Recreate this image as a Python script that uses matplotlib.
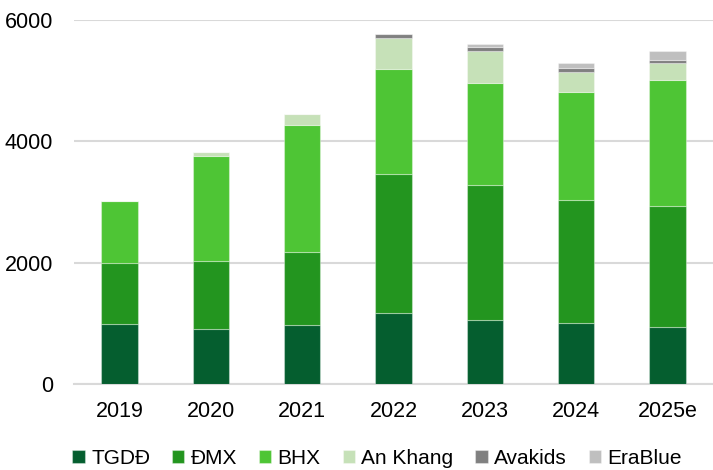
import matplotlib
matplotlib.use("Agg")
import matplotlib.pyplot as plt
import numpy as np

plt.rcParams['font.family'] = ['Liberation Sans', 'DejaVu Sans']

years = ["2019", "2020", "2021", "2022", "2023", "2024", "2025e"]
series_names = ["TGDĐ", "ĐMX", "BHX", "An Khang", "Avakids", "EraBlue"]
tgdd = [990, 900, 973, 1170, 1055, 1012, 946]
dmx = [1010, 1126, 1197, 2296, 2220, 2026, 1993]
bhx = [1015, 1735, 2102, 1730, 1690, 1777, 2064]
ankhang = [0, 56, 181, 510, 527, 330, 280]
avakids = [0, 0, 0, 66, 66, 66, 60]
erablue = [0, 0, 0, 0, 39, 77, 154]
colors = ["#055E2F", "#23951F", "#4EC535", "#C6E1B8", "#808080", "#BFBFBF"]

data = [tgdd, dmx, bhx, ankhang, avakids, erablue]

fig = plt.figure(figsize=(7.13, 4.70), dpi=100)
ax = fig.add_axes([74/713, 1-384/470, (713-74)/713, (384-20)/470])

x = np.arange(len(years))
bottom = np.zeros(len(years))
handles = []
for name, vals, c in zip(series_names, data, colors):
    vals = np.array(vals, dtype=float)
    b = ax.bar(x, vals, 0.4, bottom=bottom, color=c, label=name,
               edgecolor=(1, 1, 1, 0.35), linewidth=0.8, zorder=3)
    handles.append(b)
    bottom += vals

ax.set_xlim(-0.5, len(years) - 0.5)
ax.set_ylim(0, 6000)
ax.set_yticks([0, 2000, 4000, 6000])
ax.set_xticks(x)
ax.set_xticklabels(years)
ax.tick_params(axis='both', length=0, labelsize=15.5, colors='#000000')
ax.tick_params(axis='y', pad=15)
ax.tick_params(axis='x', pad=12)
ax.yaxis.grid(True, color='#D9D9D9', linewidth=1.5, zorder=0)
ax.set_axisbelow(True)
for s in ['left', 'right', 'top']:
    ax.spines[s].set_visible(False)
ax.spines['bottom'].set_color('#D9D9D9')
ax.spines['bottom'].set_linewidth(1.5)

fig.legend(handles=handles, labels=series_names, loc='center left',
           bbox_to_anchor=(64/713, 1-458/470), ncol=6, frameon=False,
           fontsize=15, handlelength=0.6, handleheight=0.6,
           handletextpad=0.3, columnspacing=1.05, borderaxespad=0)

fig.savefig("out.png", dpi=100)
